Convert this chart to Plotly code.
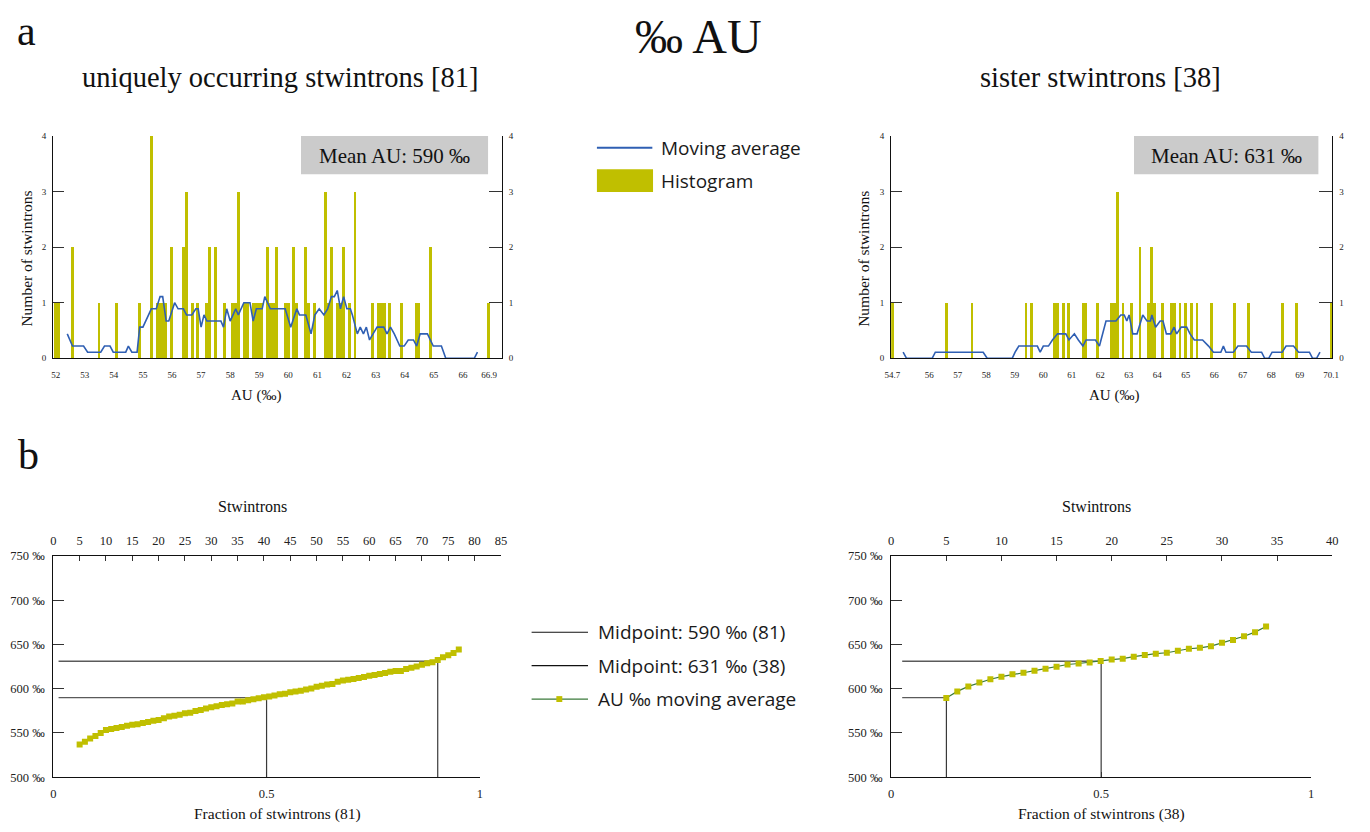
import plotly.graph_objects as go

SERIF = "Liberation Serif"
SANS = "Open Sans"
YELLOW = "#c0bf00"
BLUE = "#2f5fb3"
GREEN = "#3b7a3b"
GREY_BOX = "#cbcbcb"

# ---------------- panel a : histograms (AU value, count) ----------------
LEFT_AU = [52.0, 52.1, 52.6, 53.5, 54.1, 54.9, 55.3, 55.5, 55.6, 55.7, 55.8, 56.0,
           56.4, 56.5, 56.7, 56.9, 57.2, 57.3, 57.5, 57.8, 58.1, 58.2, 58.3, 58.5,
           58.6, 58.8, 58.9, 59.0, 59.1, 59.3, 59.4, 59.5, 59.6, 59.9, 60.0, 60.2,
           60.3, 60.6, 60.7, 60.9, 61.3, 61.4, 61.5, 61.7, 61.8, 61.9, 62.1, 62.3,
           62.9, 63.1, 63.2, 63.3, 63.5, 63.9, 64.4, 64.5, 64.9, 66.9]
LEFT_COUNT = [1, 1, 2, 1, 1, 1, 4, 1, 1, 1, 1, 2,
              2, 3, 1, 1, 1, 2, 2, 1, 1, 1, 3, 1,
              1, 1, 1, 1, 1, 2, 1, 1, 2, 1, 1, 2,
              1, 2, 1, 1, 3, 1, 2, 1, 1, 2, 1, 3,
              1, 1, 1, 1, 1, 1, 1, 1, 2, 1]

RIGHT_AU = [54.7, 56.6, 57.5, 59.4, 59.6, 60.4, 60.5, 60.7, 60.9, 61.4, 61.5, 61.9,
            62.4, 62.5, 62.6, 62.8, 63.1, 63.4, 63.7, 63.8, 63.9, 64.2, 64.5, 64.6,
            64.8, 65.0, 65.2, 65.4, 65.9, 66.7, 67.2, 68.4, 68.9, 70.1]
RIGHT_COUNT = [1, 1, 1, 1, 1, 1, 1, 1, 1, 1, 1, 1,
               1, 1, 3, 1, 1, 2, 1, 2, 1, 1, 1, 1,
               1, 1, 1, 1, 1, 1, 1, 1, 1, 1]

LEFT_MA_X = [52.40, 52.58, 52.96, 53.10, 53.55, 53.68, 53.87, 53.98, 54.41, 54.50,
             54.62, 54.80, 54.89, 55.00, 55.29, 55.46, 55.59, 55.68, 55.80, 55.89,
             56.09, 56.21, 56.39, 56.50, 56.68, 56.82, 56.90, 57.00, 57.10, 57.20,
             57.68, 57.77, 57.88, 58.00, 58.19, 58.28, 58.47, 58.68, 58.79, 58.90,
             59.10, 59.19, 59.38, 59.89, 60.08, 60.29, 60.38, 60.60, 60.78, 60.91,
             61.06, 61.22, 61.35, 61.48, 61.58, 61.68, 61.79, 61.90, 62.01, 62.13,
             62.20, 62.37, 62.47, 62.58, 62.68, 62.79, 62.91, 63.05, 63.28, 63.39,
             63.51, 63.64, 63.83, 63.98, 64.12, 64.30, 64.41, 64.53, 64.78, 64.98,
             65.26, 65.41, 66.39, 66.50]
LEFT_MA_Y = [0.44, 0.22, 0.22, 0.11, 0.11, 0.22, 0.22, 0.11, 0.11, 0.22,
             0.11, 0.11, 0.56, 0.56, 0.89, 0.89, 1.11, 1.11, 0.67, 0.67,
             1.00, 0.89, 0.89, 0.78, 0.78, 0.89, 0.89, 0.56, 0.78, 0.67,
             0.67, 0.56, 0.89, 0.67, 0.89, 0.78, 1.00, 1.00, 0.67, 0.89,
             0.89, 1.11, 0.89, 0.89, 0.56, 0.89, 0.78, 0.78, 0.44, 0.78,
             0.89, 0.78, 0.89, 1.11, 1.11, 1.22, 0.89, 1.11, 0.89, 0.89,
             0.78, 0.44, 0.56, 0.44, 0.56, 0.33, 0.44, 0.56, 0.56, 0.44,
             0.56, 0.44, 0.22, 0.22, 0.33, 0.33, 0.22, 0.44, 0.44, 0.22,
             0.22, 0.00, 0.00, 0.11]

RIGHT_MA_X = [55.08, 55.20, 56.10, 56.21, 57.89, 58.03, 58.91, 59.01, 59.14, 59.79,
              59.89, 60.00, 60.18, 60.32, 60.50, 60.79, 60.90, 61.09, 61.23, 61.39,
              61.50, 61.83, 61.97, 62.09, 62.20, 62.55, 62.72, 62.84, 62.93, 63.01,
              63.14, 63.29, 63.49, 63.64, 63.76, 63.81, 63.94, 64.10, 64.20, 64.32,
              64.47, 64.59, 64.68, 64.84, 65.03, 65.15, 65.30, 65.59, 65.80, 65.97,
              66.23, 66.32, 66.41, 66.67, 66.83, 67.13, 67.30, 67.66, 67.77, 67.91,
              68.03, 68.38, 68.52, 68.78, 68.96, 69.34, 69.45, 69.59, 69.71]
RIGHT_MA_Y = [0.11, 0.00, 0.00, 0.11, 0.11, 0.00, 0.00, 0.11, 0.22, 0.22,
              0.11, 0.22, 0.22, 0.33, 0.44, 0.44, 0.33, 0.44, 0.33, 0.22,
              0.33, 0.33, 0.22, 0.44, 0.67, 0.67, 0.78, 0.78, 0.67, 0.78,
              0.44, 0.44, 0.78, 0.67, 0.67, 0.78, 0.56, 0.67, 0.67, 0.44,
              0.44, 0.56, 0.44, 0.56, 0.56, 0.44, 0.33, 0.33, 0.22, 0.11,
              0.11, 0.22, 0.11, 0.11, 0.22, 0.22, 0.11, 0.11, 0.00, 0.00,
              0.11, 0.11, 0.22, 0.22, 0.11, 0.11, 0.00, 0.00, 0.11]

LEFT_XTICKS = [52, 53, 54, 55, 56, 57, 58, 59, 60, 61, 62, 63, 64, 65, 66, 66.9]
RIGHT_XTICKS = [54.7, 56, 57, 58, 59, 60, 61, 62, 63, 64, 65, 66, 67, 68, 69, 70.1]
COUNT_TICKS = [0, 1, 2, 3, 4]
MEAN_AU = [590, 631]

# ---------------- panel b : sorted moving average ----------------
N_LEFT, N_RIGHT = 81, 38
LEFT_IDX = list(range(5, 78))
LEFT_AVG = [537.0, 540.0, 543.7, 546.7, 550.0, 553.3, 554.4, 555.5, 556.7, 558.1,
            559.2, 560.0, 561.4, 562.5, 563.7, 564.8, 566.7, 568.5, 569.6, 570.7,
            572.2, 572.9, 574.8, 575.9, 577.8, 579.2, 580.3, 581.5, 582.6, 583.3,
            585.5, 585.5, 587.0, 588.1, 589.2, 590.3, 591.1, 592.5, 593.7, 594.4,
            595.9, 597.0, 597.8, 599.2, 600.3, 602.2, 603.3, 604.8, 605.5, 607.8,
            609.2, 610.3, 611.1, 612.2, 613.3, 614.8, 615.5, 616.7, 617.8, 619.2,
            620.0, 620.0, 622.2, 623.7, 625.2, 627.0, 628.9, 630.0, 632.6, 635.6,
            637.8, 640.4, 644.4]
RIGHT_IDX = list(range(5, 35))
RIGHT_AVG = [589.6, 597.0, 602.6, 607.0, 610.7, 613.7, 616.3, 618.1, 620.4, 622.6,
             624.8, 627.4, 628.5, 629.6, 631.5, 633.0, 634.0, 636.3, 638.1, 639.6,
             640.7, 643.0, 645.2, 646.3, 648.1, 651.9, 655.2, 659.3, 664.0, 670.4]
MIDPOINTS = [590, 631]
LEFT_MID_INDEX = [40.5, 73]     # stwintron index where each midpoint is reached
RIGHT_MID_INDEX = [5, 19]
AU_TICKS = [500, 550, 600, 650, 700, 750]
FRAC_TICKS = [0, 0.5, 1]

# figure sized so the page (with the default 8px body margin) fits the window
OFF = 8
W, H = 1370 - 2 * OFF, 832 - 2 * OFF


def fx(x):
    return (x - OFF) / W


def fy(y):
    return 1 - (y - OFF) / H


fig = go.Figure()

# ---- histograms ----
for xa, ya, ya2, xs, cs, mx, my in [("x", "y", "y2", LEFT_AU, LEFT_COUNT, LEFT_MA_X, LEFT_MA_Y),
                                   ("x3", "y3", "y4", RIGHT_AU, RIGHT_COUNT, RIGHT_MA_X, RIGHT_MA_Y)]:
    fig.add_trace(go.Bar(x=xs, y=cs, width=0.1, marker=dict(color=YELLOW, line=dict(width=0)),
                         xaxis=xa, yaxis=ya, hoverinfo="x+y"))
    fig.add_trace(go.Scatter(x=mx, y=my, mode="lines", line=dict(color=BLUE, width=1.6),
                             xaxis=xa, yaxis=ya2))

# ---- panel b ----
for xb, yb, xt, n, idx, avg, mids, lw in [("x5", "y5", "x6", N_LEFT, LEFT_IDX, LEFT_AVG, LEFT_MID_INDEX, 1),
                                          ("x7", "y7", "x8", N_RIGHT, RIGHT_IDX, RIGHT_AVG, RIGHT_MID_INDEX, 1.2)]:
    for val, mi in zip(MIDPOINTS, mids):
        f0 = 1 / n
        f1 = mi / n
        fig.add_trace(go.Scatter(x=[f0, f1], y=[val, val], mode="lines",
                                 line=dict(color="#5a5a5a", width=1.4), xaxis=xb, yaxis=yb))
        fig.add_trace(go.Scatter(x=[f1, f1], y=[AU_TICKS[0], val], mode="lines",
                                 line=dict(color="#3a3a3a", width=1.2), xaxis=xb, yaxis=yb))
    fig.add_trace(go.Scatter(x=idx, y=avg, mode="lines+markers",
                             line=dict(color=GREEN, width=lw),
                             marker=dict(symbol="square", size=6, color=YELLOW, line=dict(width=0)),
                             xaxis=xt, yaxis=yb))

tick_a = dict(family=SERIF, size=9, color="#222")
tick_b = dict(family=SERIF, size=12.5, color="#222")
common = dict(showgrid=False, zeroline=False, showline=True, linecolor="#111", linewidth=1.3,
              fixedrange=True)

ya_dom = [fy(357.3), fy(131)]
yb_dom = [fy(783.5), fy(558.5)]

layout = dict(
    width=W, height=H, margin=dict(l=0, r=0, t=0, b=0),
    paper_bgcolor="white", plot_bgcolor="rgba(0,0,0,0)", showlegend=False,
    bargap=0,
    # left histogram
    xaxis=dict(domain=[fx(46.7), fx(500)], range=[51.92, 67.34], anchor="y",
               tickvals=LEFT_XTICKS, ticktext=[str(v) for v in LEFT_XTICKS],
               ticks="", tickfont=tick_a, ticklabelstandoff=8, **common),
    yaxis=dict(domain=ya_dom, range=[0, 4], anchor="x", tickvals=COUNT_TICKS,
               ticks="inside", ticklen=11, tickcolor="#333", tickwidth=1.3,
               tickfont=tick_a, ticklabelstandoff=4, **common),
    yaxis2=dict(overlaying="y", side="right", range=[0, 4], anchor="x", tickvals=COUNT_TICKS,
                ticks="inside", ticklen=13, tickcolor="#333", tickwidth=1.3,
                tickfont=tick_a, ticklabelstandoff=4, **common),
    # right histogram
    xaxis3=dict(domain=[fx(893.3), fx(1339)], range=[54.66, 70.14], anchor="y3",
                tickvals=RIGHT_XTICKS, ticktext=[str(v) for v in RIGHT_XTICKS],
                ticks="", tickfont=tick_a, ticklabelstandoff=8, **common),
    yaxis3=dict(domain=ya_dom, range=[0, 4], anchor="x3", tickvals=COUNT_TICKS,
                ticks="inside", ticklen=11, tickcolor="#333", tickwidth=1.3,
                tickfont=tick_a, ticklabelstandoff=4, **common),
    yaxis4=dict(overlaying="y3", side="right", range=[0, 4], anchor="x3", tickvals=COUNT_TICKS,
                ticks="inside", ticklen=13, tickcolor="#333", tickwidth=1.3,
                tickfont=tick_a, ticklabelstandoff=4, **common),
    # left panel b
    xaxis5=dict(domain=[fx(46.7), fx(477.7)], range=[0, 1], anchor="y5",
                tickvals=FRAC_TICKS, ticktext=["0", "0.5", "1"], ticks="inside", ticklen=5,
                tickcolor="#333", tickfont=tick_b, ticklabelstandoff=5, **common),
    xaxis6=dict(domain=[fx(46.7), fx(499)], range=[0, 85], anchor="y5", side="top",
                tickvals=list(range(0, 86, 5)), ticks="inside", ticklen=5, tickcolor="#333",
                tickfont=tick_b, ticklabelstandoff=5, **common),
    yaxis5=dict(domain=yb_dom, range=[500, 750], anchor="x5", tickvals=AU_TICKS,
                ticktext=[f"{v} ‰" for v in AU_TICKS], ticks="inside", ticklen=11,
                tickcolor="#333", tickfont=tick_b, ticklabelstandoff=5, **common),
    # right panel b
    xaxis7=dict(domain=[fx(893.3), fx(1317.7)], range=[0, 1], anchor="y7",
                tickvals=FRAC_TICKS, ticktext=["0", "0.5", "1"], ticks="inside", ticklen=5,
                tickcolor="#333", tickfont=tick_b, ticklabelstandoff=5, **common),
    xaxis8=dict(domain=[fx(893.3), fx(1339)], range=[0, 40], anchor="y7", side="top",
                tickvals=list(range(0, 41, 5)), ticks="inside", ticklen=5, tickcolor="#333",
                tickfont=tick_b, ticklabelstandoff=5, **common),
    yaxis7=dict(domain=yb_dom, range=[500, 750], anchor="x7", tickvals=AU_TICKS,
                ticktext=[f"{v} ‰" for v in AU_TICKS], ticks="inside", ticklen=11,
                tickcolor="#333", tickfont=tick_b, ticklabelstandoff=5, **common),
)
fig.update_layout(**layout)


def note(text, x, y, size, family=SERIF, xanchor="center", angle=0, color="#111"):
    fig.add_annotation(text=text, x=fx(x), y=fy(y), xref="paper", yref="paper",
                       xanchor=xanchor, yanchor="middle", showarrow=False, textangle=angle,
                       font=dict(family=family, size=size, color=color))


# titles / labels
note("a", 20, 24, 42)
note("b", 22, 456, 42)
note("‰ AU", 699, 30, 48)
note("uniquely occurring stwintrons [81]", 276, 72, 28.5)
note("sister stwintrons [38]", 1105, 72, 28.5)
note("Number of stwintrons", 20, 256, 15.5, angle=-90)
note("Number of stwintrons", 866, 256, 15.5, angle=-90)
note("AU (‰)", 252, 395, 15)
note("AU (‰)", 1118, 395, 15)
note("Stwintrons", 248, 508, 16)
note("Stwintrons", 1101, 508, 16)
note(f"Fraction of stwintrons ({N_LEFT})", 273, 821, 15.5)
note(f"Fraction of stwintrons ({N_RIGHT})", 1106, 821, 15.5)

# mean boxes
for (x0, x1), val in zip([(297, 486), (1138.7, 1325)], MEAN_AU):
    fig.add_shape(type="rect", xref="paper", yref="paper", x0=fx(x0), x1=fx(x1),
                  y0=fy(170), y1=fy(131), fillcolor=GREY_BOX, line=dict(width=0), layer="above")
    note(f"Mean AU: {val} ‰", (x0 + x1) / 2, 151, 21)

# legend a
fig.add_shape(type="line", xref="paper", yref="paper", x0=fx(596), x1=fx(652), y0=fy(143), y1=fy(143),
              line=dict(color=BLUE, width=2))
fig.add_shape(type="rect", xref="paper", yref="paper", x0=fx(596), x1=fx(652.7), y0=fy(188), y1=fy(165),
              fillcolor=YELLOW, line=dict(width=0))
note("Moving average", 659, 143, 19, family=SANS, xanchor="left", color="#1a1a1a")
note("Histogram", 659, 177, 19, family=SANS, xanchor="left", color="#1a1a1a")

# legend b
for yy, col, lbl in [(636, "#111", f"Midpoint: {MIDPOINTS[0]} ‰ ({N_LEFT})"),
                     (670, "#111", f"Midpoint: {MIDPOINTS[1]} ‰ ({N_RIGHT})"),
                     (704, GREEN, "AU ‰ moving average")]:
    fig.add_shape(type="line", xref="paper", yref="paper", x0=fx(530), x1=fx(587), y0=fy(yy), y1=fy(yy),
                  line=dict(color=col, width=1.2))
    note(lbl, 595, yy, 19, family=SANS, xanchor="left", color="#1a1a1a")
fig.add_shape(type="rect", xref="paper", yref="paper", x0=fx(555), x1=fx(561), y0=fy(707), y1=fy(701),
              fillcolor=YELLOW, line=dict(width=0))

fig.write_html("out.html")
